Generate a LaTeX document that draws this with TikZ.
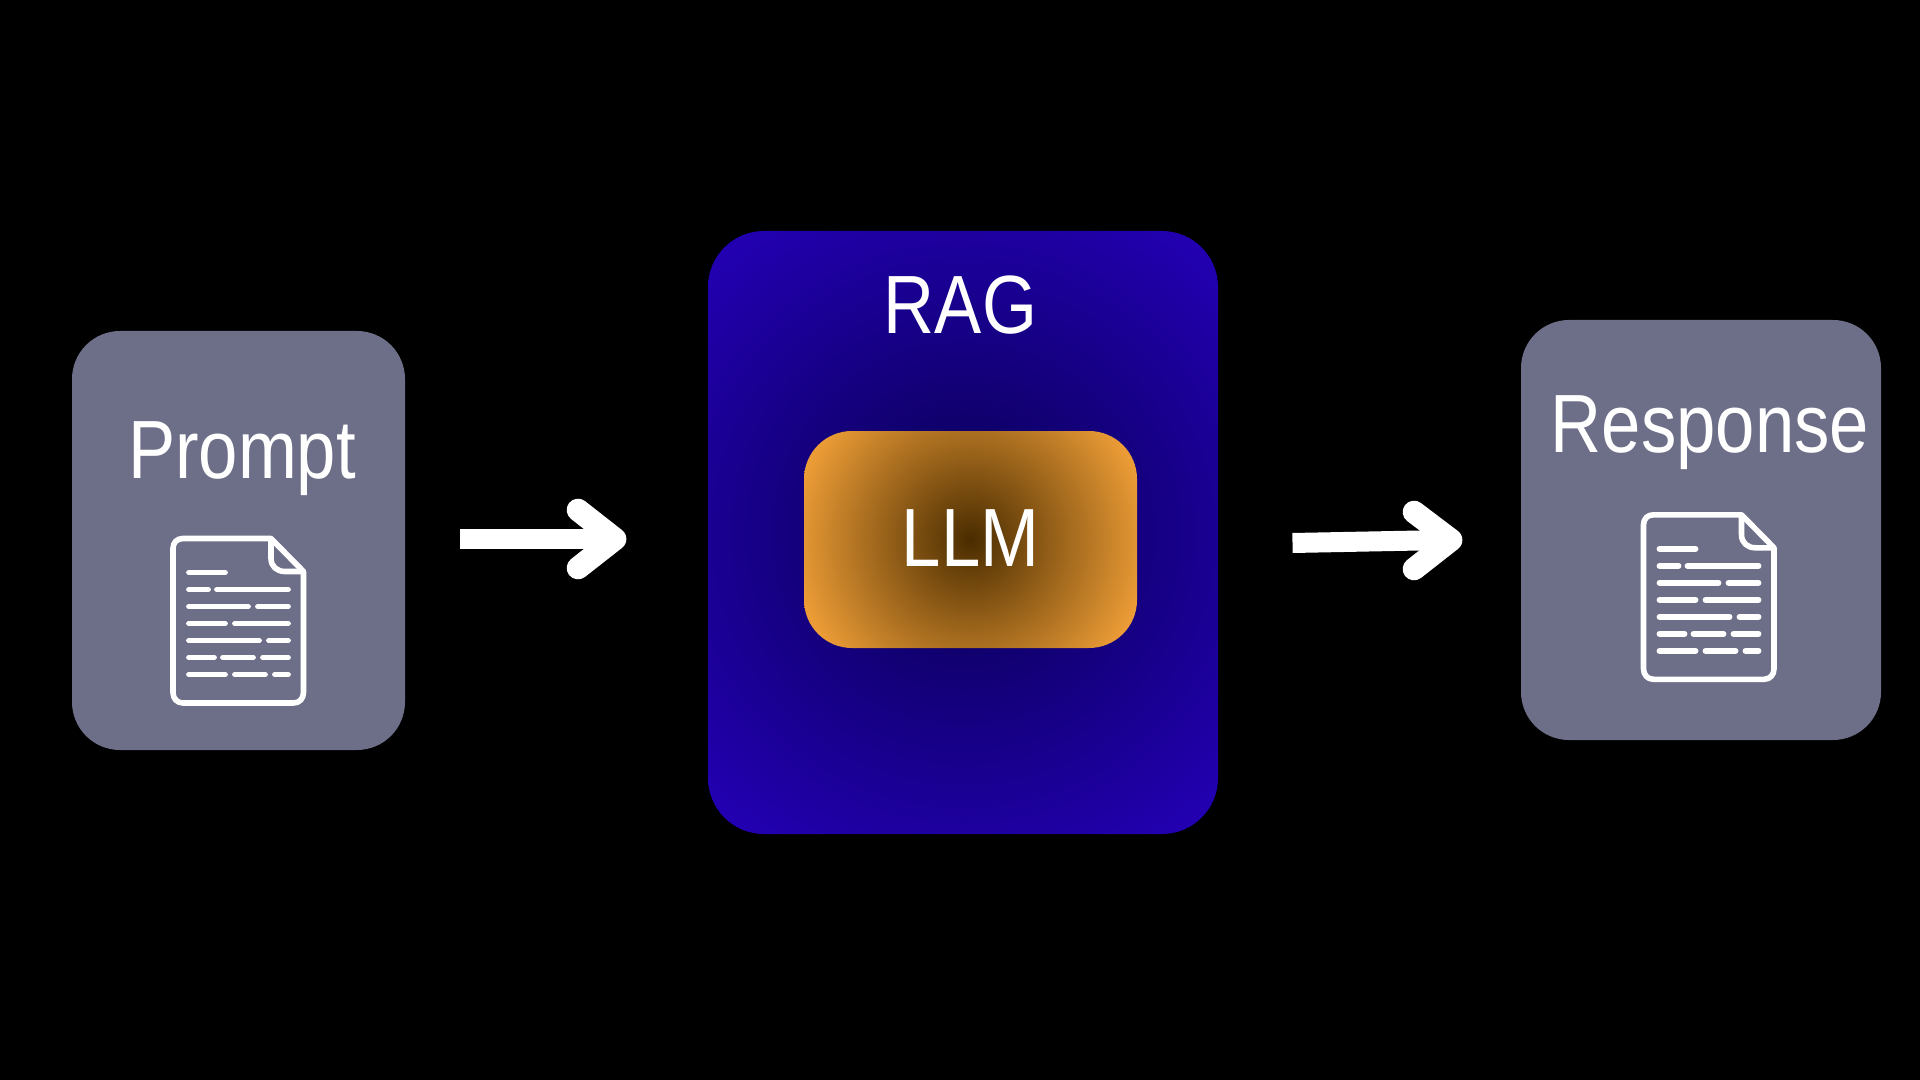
\documentclass[tikz,border=0pt]{standalone}
\usepackage{fontspec}
\newfontfamily\labelfont[FakeStretch=0.855]{Liberation Sans}

\definecolor{panelgrey}{HTML}{6D6E87}
\definecolor{ragcore}{HTML}{080050}
\definecolor{ragedge}{HTML}{2400B8}
\definecolor{llmcore}{HTML}{4A2C00}
\definecolor{llmedge}{HTML}{EC9C36}

\pgfdeclareradialshading{ragglow}{\pgfpointorigin}{color(0bp)=(ragcore); color(25bp)=(ragedge); color(50bp)=(ragedge)}
\pgfdeclareradialshading{llmglow}{\pgfpointorigin}{color(0bp)=(llmcore); color(25bp)=(llmedge); color(50bp)=(llmedge)}

\tikzset{
  panel/.style={rectangle, inner sep=0pt, fill=panelgrey, rounded corners=36pt},
  ragpanel/.style={rectangle, inner sep=0pt, rounded corners=42pt, path picture={
    \shade[shading=ragglow] ([shift={(-395,-395)}]path picture bounding box.center) rectangle ([shift={(395,395)}]path picture bounding box.center);}},
  llmpanel/.style={rectangle, inner sep=0pt, rounded corners=36pt, path picture={
    \shade[shading=llmglow] ([shift={(-178,-178)}]path picture bounding box.center) rectangle ([shift={(178,178)}]path picture bounding box.center);}},
  boxlabel/.style={anchor=base, inner sep=0pt, text=white, font=\labelfont\fontsize{62}{70}\selectfont},
  flowshaft/.style={draw=white, line width=15pt},
  flowhead/.style={draw=white, line width=17pt, line cap=round, line join=round},
  docicon/.pic={
    % sheet with folded corner
    \draw [white, line width=4.2pt, line join=round] (98,0) -- (10,0) .. controls (4,0) and (0,4) .. (0,10) -- (0,154) .. controls (0,160) and (4,164.5) .. (10,164.5) -- (120.5,164.5) .. controls (126.5,164.5) and (130.5,160) .. (130.5,154) -- (130.5,33) -- cycle ;
    \draw [white, line width=4.2pt, line join=round] (98,0) -- (98,20) .. controls (98,28) and (104,33) .. (112,33) -- (130.5,33) ;
    % text rows
    \draw [white, line width=4.4pt, line cap=round]
      (16,34) -- (52,34)
      (16,51) -- (35,51)  (44,51) -- (115,51)
      (16,68) -- (75,68)  (85,68) -- (115,68)
      (16,85) -- (52,85)  (62,85) -- (115,85)
      (16,102) -- (86,102)  (96,102) -- (115,102)
      (16,119) -- (41,119)  (50,119) -- (80,119)  (90,119) -- (115,119)
      (16,136) -- (52,136)  (62,136) -- (92,136)  (102,136) -- (115,136) ;
  }
}

\begin{document}
\begin{tikzpicture}[x=0.75pt,y=0.75pt,yscale=-1]
\fill [black] (0,0) rectangle (1920,1080);
\useasboundingbox (0,0) rectangle (1920,1080);

% Panels
\node (promptbox) [panel, minimum width=249.75pt, minimum height=314.25pt] at (238.5,540.5) {};
\node (responsebox) [panel, minimum width=270pt, minimum height=315pt] at (1701,530) {};
\node (ragbox) [ragpanel, minimum width=382.5pt, minimum height=452.25pt] at (963,532.5) {};
\node (llmbox) [llmpanel, minimum width=249.75pt, minimum height=162.75pt] at (970.5,539.5) {};

% Labels
\node (promptlabel) [boxlabel] at (242,478.5) {Prompt};
\node (responselabel) [boxlabel] at (1710,452) {Response};
\node (raglabel) [boxlabel] at (960.5,334) {RAG};
\node (llmlabel) [boxlabel] at (970.5,566) {LLM};

% Documents
\pic [yscale=-1] at (173,538.5) {docicon};
\pic [yscale=-1] at (1643.5,514.8) {docicon};

% Arrow into RAG
\coordinate (inshaftstart) at (459.5,539);
\coordinate (inshaftend) at (610,539);
\coordinate (inbarbtop) at (578,510);
\coordinate (intip) at (615,539);
\coordinate (inbarbbottom) at (578,568);
\draw [flowshaft] (inshaftstart) -- (inshaftend);
\draw [flowhead] (inbarbtop) -- (intip) -- (inbarbbottom);

% Arrow out of RAG
\coordinate (outshaftstart) at (1292.5,543);
\coordinate (outshaftend) at (1445,540);
\coordinate (outbarbtop) at (1414,512);
\coordinate (outtip) at (1451,540);
\coordinate (outbarbbottom) at (1414,569);
\draw [flowshaft] (outshaftstart) -- (outshaftend);
\draw [flowhead] (outbarbtop) -- (outtip) -- (outbarbbottom);
\end{tikzpicture}
\end{document}
